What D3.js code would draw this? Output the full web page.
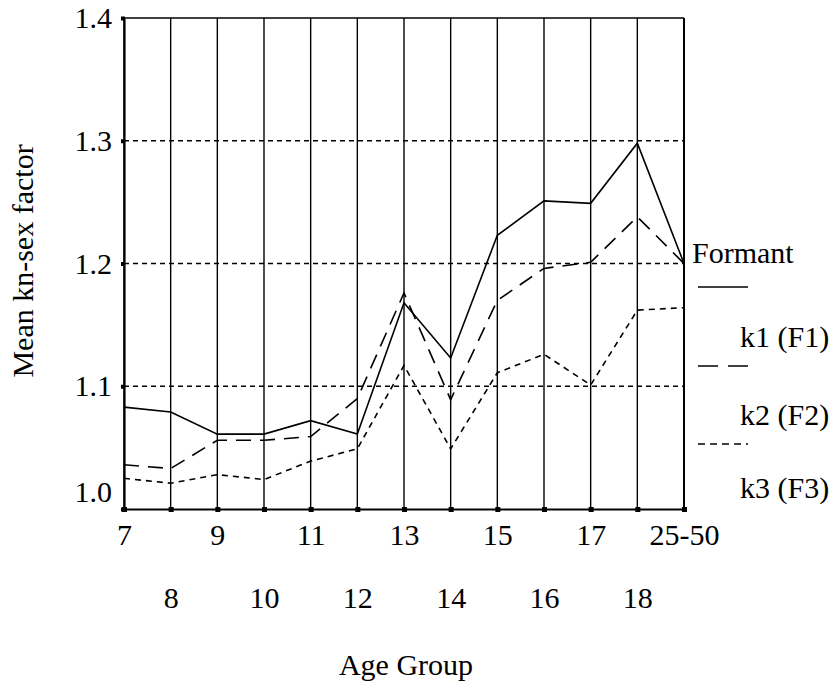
<!DOCTYPE html>
<html>
<head>
<meta charset="utf-8">
<script src="https://cdn.jsdelivr.net/npm/d3@7"></script>
<style>
  html, body { margin: 0; padding: 0; background: #fff; }
  svg text { font-family: "Liberation Serif", "Times New Roman", serif; fill: #000; }
</style>
</head>
<body>
<svg id="chart" width="832" height="685"></svg>
<script>
// Age groups along the x axis
const categories = ["7", "8", "9", "10", "11", "12", "13", "14", "15", "16", "17", "18", "25-50"];
// Mean kn-sex factor per age group
const formant = [1.083, 1.079, 1.061, 1.061, 1.072, 1.061, 1.168, 1.123, 1.223, 1.251, 1.249, 1.298, 1.200];
const k1 = [1.036, 1.033, 1.056, 1.056, 1.059, 1.090, 1.176, 1.089, 1.170, 1.196, 1.201, 1.238, 1.200];
const k2 = [1.025, 1.021, 1.028, 1.024, 1.039, 1.049, 1.117, 1.049, 1.111, 1.126, 1.101, 1.162, 1.164];
const yTicks = [1.0, 1.1, 1.2, 1.3, 1.4];
const legendLabels = ["Formant", "k1 (F1)", "k2 (F2)", "k3 (F3)"];

const series = [
  { name: "Formant", values: formant, dash: null },
  { name: "k1 (F1)", values: k1, dash: "15,9" },
  { name: "k2 (F2)", values: k2, dash: "6,5" }
];

const svg = d3.select("#chart");
const plotLeft = 124, plotRight = 684, plotTop = 18, plotBottom = 509;

const x = d3.scalePoint().domain(categories).range([plotLeft, plotRight]);
const y = d3.scaleLinear().domain([1.0, 1.4]).range([plotBottom, plotTop]);

// vertical grid at each age group
svg.append("g").selectAll("line").data(categories).join("line")
  .attr("x1", d => x(d)).attr("x2", d => x(d))
  .attr("y1", plotTop).attr("y2", plotBottom)
  .attr("stroke", "#000").attr("stroke-width", 1.4);

// horizontal dashed grid
svg.append("g").selectAll("line").data(yTicks.filter(v => v > 1.0 && v < 1.4)).join("line")
  .attr("x1", plotLeft).attr("x2", plotRight)
  .attr("y1", d => y(d)).attr("y2", d => y(d))
  .attr("stroke", "#000").attr("stroke-width", 1.3)
  .attr("stroke-dasharray", "5,4");

// frame: top line and right edge
svg.append("line").attr("x1", plotLeft).attr("x2", plotRight).attr("y1", y(1.4)).attr("y2", y(1.4))
  .attr("stroke", "#000").attr("stroke-width", 1.4);
svg.append("line").attr("x1", plotRight).attr("x2", plotRight).attr("y1", plotTop).attr("y2", plotBottom)
  .attr("stroke", "#000").attr("stroke-width", 2);

// y axis
const yAxis = svg.append("g").attr("transform", `translate(${plotLeft},0)`)
  .call(d3.axisLeft(y).tickValues(yTicks).tickFormat(d3.format(".1f")).tickSize(0).tickPadding(12));
yAxis.select(".domain").attr("stroke", "#000").attr("stroke-width", 2.2);
yAxis.selectAll("text").attr("font-size", 30).attr("font-family", "Liberation Serif");
yAxis.selectAll(".tick").filter(d => d === 1.0).select("text").attr("dy", "-0.24em");
yAxis.selectAll(".tick").append("rect")
  .attr("x", -3).attr("y", -2).attr("width", 4).attr("height", 4).attr("fill", "#000");

// x axis with staggered labels
const xAxis = svg.append("g").attr("transform", `translate(0,${plotBottom})`)
  .call(d3.axisBottom(x).tickSize(0).tickPadding(0));
xAxis.select(".domain").attr("stroke", "#000").attr("stroke-width", 2.2);
xAxis.selectAll("text").attr("font-size", 30).attr("font-family", "Liberation Serif")
  .attr("dy", null)
  .attr("y", (d, i) => i % 2 === 0 ? 36 : 99);
xAxis.selectAll(".tick").append("rect")
  .attr("x", -2.5).attr("y", -2).attr("width", 5).attr("height", 5).attr("fill", "#000");

// data lines
const line = d3.line().x((d, i) => x(categories[i])).y(d => y(d));
svg.append("g").selectAll("path").data(series).join("path")
  .attr("d", d => line(d.values))
  .attr("fill", "none").attr("stroke", "#000").attr("stroke-width", 1.6)
  .attr("stroke-dasharray", d => d.dash);

// axis titles
svg.append("text").attr("x", 406).attr("y", 675).attr("text-anchor", "middle")
  .attr("font-size", 30).text("Age Group");
svg.append("text").attr("transform", "translate(33,261) rotate(-90)")
  .attr("text-anchor", "middle").attr("font-size", 30).text("Mean kn-sex factor");

// legend
const legendText = [
  { x: 692, y: 263 }, { x: 740, y: 347 }, { x: 740, y: 425 }, { x: 740, y: 498 }
];
svg.append("g").selectAll("text").data(legendLabels).join("text")
  .attr("x", (d, i) => legendText[i].x).attr("y", (d, i) => legendText[i].y)
  .attr("font-size", 30).text(d => d);
const legendLineY = [287, 366, 444];
svg.append("g").selectAll("line").data(series).join("line")
  .attr("x1", 698).attr("x2", 748)
  .attr("y1", (d, i) => legendLineY[i]).attr("y2", (d, i) => legendLineY[i])
  .attr("stroke", "#000").attr("stroke-width", 1.6)
  .attr("stroke-dasharray", (d, i) => i === 0 ? null : (i === 1 ? "20,10" : "7,5"));
</script>
</body>
</html>
